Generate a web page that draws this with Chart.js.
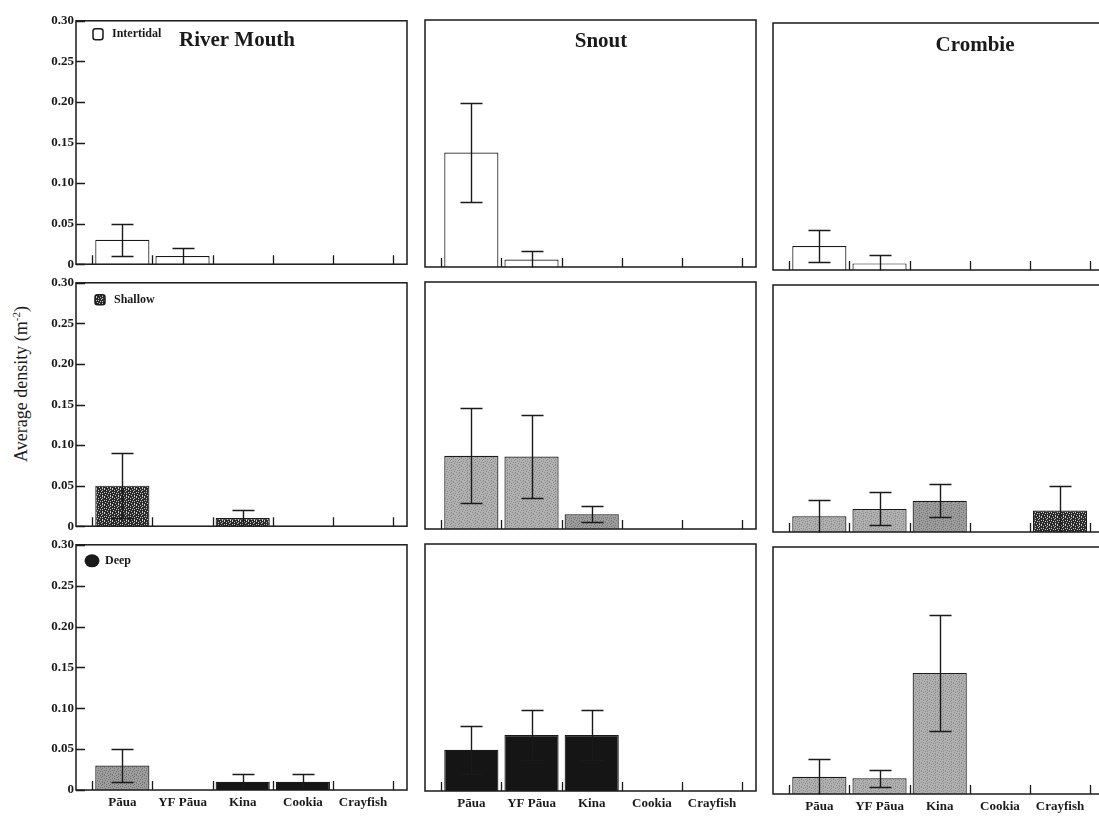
<!DOCTYPE html>
<html>
<head>
<meta charset="utf-8">
<script src="https://cdn.jsdelivr.net/npm/chart.js@4.4.1/dist/chart.umd.min.js"></script>
<style>
  body { margin: 0; background: #fff; width: 1099px; height: 816px; overflow: hidden; position: relative;
         font-family: 'Liberation Serif', 'Times New Roman', serif; }
  canvas { position: absolute; }
  #ylabel { position: absolute; left: 21px; top: 384px; transform: translate(-50%, -50%) rotate(-90deg);
            white-space: nowrap; font-size: 18px; color: #1a1a1a; }
  #ylabel sup { font-size: 11px; }
</style>
</head>
<body>
<div id="ylabel">Average density (m<sup>-2</sup>)</div>
<script>
/* ---------- data ---------- */
const CATEGORIES = ['Pāua', 'YF Pāua', 'Kina', 'Cookia', 'Crayfish'];
const SITES      = ['River Mouth', 'Snout', 'Crombie'];
const ZONES      = ['Intertidal', 'Shallow', 'Deep'];
const Y_TICKS    = [0, 0.05, 0.10, 0.15, 0.20, 0.25, 0.30];

// mean density (m-2) and error (±), per zone / site, in CATEGORIES order
const intertidalRiverMouth    = [0.030, 0.010, 0, 0, 0];
const intertidalRiverMouthErr = [0.020, 0.010, 0, 0, 0];
const intertidalSnout         = [0.139, 0.009, 0, 0, 0];
const intertidalSnoutErr      = [0.060, 0.010, 0, 0, 0];
const intertidalCrombie       = [0.029, 0.008, 0, 0, 0];
const intertidalCrombieErr    = [0.019, 0.010, 0, 0, 0];

const shallowRiverMouth       = [0.050, 0, 0.010, 0, 0];
const shallowRiverMouthErr    = [0.040, 0, 0.010, 0, 0];
const shallowSnout            = [0.089, 0.088, 0.018, 0, 0];
const shallowSnoutErr         = [0.058, 0.050, 0.010, 0, 0];
const shallowCrombie          = [0.019, 0.028, 0.038, 0, 0.026];
const shallowCrombieErr       = [0.020, 0.020, 0.020, 0, 0.030];

const deepRiverMouth          = [0.030, 0, 0.010, 0.010, 0];
const deepRiverMouthErr       = [0.020, 0, 0.009, 0.009, 0];
const deepSnout               = [0.050, 0.068, 0.068, 0, 0];
const deepSnoutErr            = [0.029, 0.030, 0.030, 0, 0];
const deepCrombie             = [0.021, 0.019, 0.147, 0, 0];
const deepCrombieErr          = [0.021, 0.010, 0.070, 0, 0];

const MEANS = [
  [intertidalRiverMouth, intertidalSnout, intertidalCrombie],
  [shallowRiverMouth, shallowSnout, shallowCrombie],
  [deepRiverMouth, deepSnout, deepCrombie],
];
const ERRORS = [
  [intertidalRiverMouthErr, intertidalSnoutErr, intertidalCrombieErr],
  [shallowRiverMouthErr, shallowSnoutErr, shallowCrombieErr],
  [deepRiverMouthErr, deepSnoutErr, deepCrombieErr],
];

/* ---------- layout ---------- */
const ROW_TOP  = [19, 281, 543];
const ROW_H    = 247;
const COL_LEFT = [76, 425, 773];
const COL_DY   = [0, 1, 4];          // scanned page is slightly skewed
const COL_W    = 331;
const Y_AXIS_W = 40;
const X_AXIS_H = 26;
const TITLE_POS = [[161, 20], [176, 22], [202, 23]];   // centre of site title, relative to plot area

/* ---------- fills (scanned stipple look) ---------- */
const SPECKLE_TILE = [
  'x...x...',
  '..x...x.',
  '.....x..',
  'x.x.....',
  '....x.x.',
  '.x......',
  '...x..x.',
  'x.....x.',
];
function speckle(base, dot) {
  const c = document.createElement('canvas');
  c.width = c.height = 8;
  const g = c.getContext('2d');
  g.fillStyle = base; g.fillRect(0, 0, 8, 8);
  g.fillStyle = dot;
  SPECKLE_TILE.forEach((row, j) => [...row].forEach((ch, i) => { if (ch === 'x') g.fillRect(i, j, 1, 1); }));
  return g.createPattern(c, 'repeat');
}
const WHITE = '#ffffff';
const BLACK = '#151515';
const DARK  = speckle('#2a2a2a', '#c8c8c8');
const GREY  = speckle('#b0b0b0', '#8c8c8c');
const GREY2 = speckle('#9c9c9c', '#767676');

const FILLS = [
  [[WHITE, WHITE, WHITE, WHITE, WHITE], [WHITE, WHITE, WHITE, WHITE, WHITE], [WHITE, WHITE, WHITE, WHITE, WHITE]],
  [[DARK, DARK, DARK, DARK, DARK], [GREY, GREY, GREY2, GREY, GREY], [GREY, GREY, GREY2, GREY, DARK]],
  [[GREY2, BLACK, BLACK, BLACK, BLACK], [BLACK, BLACK, BLACK, BLACK, BLACK], [GREY, GREY, GREY, GREY, GREY]],
];

/* ---------- panel decorations: box, inner ticks, error bars, titles ---------- */
const panelDecor = {
  id: 'panelDecor',
  afterDatasetsDraw(chart, args, opts) {
    const { ctx, chartArea: a, scales: { x, y } } = chart;
    const vals = chart.data.datasets[0].data;
    ctx.save();
    ctx.strokeStyle = '#1a1a1a';
    ctx.fillStyle = '#1a1a1a';

    // error bars
    ctx.lineWidth = 1.4;
    chart.getDatasetMeta(0).data.forEach((bar, i) => {
      const e = opts.errors[i];
      if (!e) return;
      const v = vals[i].y;
      const top = Math.round(y.getPixelForValue(v + e)) + 0.5;
      const bot = Math.round(y.getPixelForValue(Math.max(v - e, 0))) + 0.5;
      const bx = Math.round(bar.x) + 0.5;
      ctx.beginPath();
      ctx.moveTo(bx, top); ctx.lineTo(bx, bot);
      ctx.moveTo(bx - 11, top); ctx.lineTo(bx + 11, top);
      if (v - e > 0.002) { ctx.moveTo(bx - 11, bot); ctx.lineTo(bx + 11, bot); }
      ctx.stroke();
    });

    // box
    ctx.lineWidth = 1.5;
    ctx.strokeRect(a.left, a.top, a.width, a.height);

    // inner tick marks at category boundaries
    ctx.lineWidth = 1.3;
    ctx.beginPath();
    for (let k = 0; k <= CATEGORIES.length; k++) {
      const px = Math.round(x.getPixelForValue(k)) + 0.5;
      ctx.moveTo(px, a.bottom); ctx.lineTo(px, a.bottom - 9);
    }
    if (opts.yTicks) {
      Y_TICKS.forEach(v => {
        const py = Math.round(y.getPixelForValue(v)) + 0.5;
        ctx.moveTo(a.left, py); ctx.lineTo(a.left + 9, py);
      });
    }
    ctx.stroke();

    // site title
    if (opts.title) {
      ctx.font = 'bold 21px "Liberation Serif", serif';
      ctx.textAlign = 'center';
      ctx.textBaseline = 'middle';
      ctx.fillText(opts.title, a.left + opts.titlePos[0], a.top + opts.titlePos[1]);
    }

    // zone key
    if (opts.zone) {
      ctx.font = 'bold 12px "Liberation Serif", serif';
      ctx.textAlign = 'left';
      ctx.textBaseline = 'middle';
      ctx.lineWidth = 1.5;
      if (opts.zone === 'Intertidal') {
        roundRect(ctx, a.left + 17, a.top + 8, 10, 11, 2.5); ctx.stroke();
        ctx.fillText(opts.zone, a.left + 36, a.top + 13);
      } else if (opts.zone === 'Shallow') {
        ctx.fillStyle = DARK;
        roundRect(ctx, a.left + 19, a.top + 12, 10, 10, 2.5); ctx.fill(); ctx.stroke();
        ctx.fillStyle = '#1a1a1a';
        ctx.fillText(opts.zone, a.left + 38, a.top + 17);
      } else {
        ctx.beginPath(); ctx.ellipse(a.left + 16, a.top + 16, 7.5, 6.5, 0, 0, Math.PI * 2); ctx.fill();
        ctx.fillText(opts.zone, a.left + 29, a.top + 16);
      }
    }
    ctx.restore();
  }
};

function roundRect(ctx, x, y, w, h, r) {
  ctx.beginPath();
  ctx.moveTo(x + r, y);
  ctx.arcTo(x + w, y, x + w, y + h, r);
  ctx.arcTo(x + w, y + h, x, y + h, r);
  ctx.arcTo(x, y + h, x, y, r);
  ctx.arcTo(x, y, x + w, y, r);
  ctx.closePath();
}

/* ---------- build 3 x 3 panels ---------- */
ZONES.forEach((zone, r) => {
  SITES.forEach((site, c) => {
    const yw = c === 0 ? Y_AXIS_W : 0;
    const xh = r === 2 ? X_AXIS_H : 0;
    const pad = { top: 8, left: 4, right: 4, bottom: r === 2 ? 2 : 8 };

    const canvas = document.createElement('canvas');
    canvas.width  = pad.left + yw + COL_W + pad.right;
    canvas.height = pad.top + ROW_H + xh + pad.bottom;
    canvas.style.left = (COL_LEFT[c] - pad.left - yw) + 'px';
    canvas.style.top  = (ROW_TOP[r] + COL_DY[c] - pad.top) + 'px';
    document.body.appendChild(canvas);

    new Chart(canvas, {
      type: 'bar',
      data: {
        datasets: [{
          data: MEANS[r][c].map((v, i) => ({ x: i + 0.5, y: v })),
          backgroundColor: FILLS[r][c],
          borderColor: '#1a1a1a',
          borderWidth: 1.2,
          categoryPercentage: 1,
          barPercentage: 0.9,
        }]
      },
      options: {
        responsive: false,
        animation: false,
        layout: { padding: pad },
        plugins: {
          legend: { display: false },
          tooltip: { enabled: false },
          panelDecor: {
            errors: ERRORS[r][c],
            yTicks: c === 0,
            title: r === 0 ? site : null,
            titlePos: TITLE_POS[c],
            zone: c === 0 ? zone : null,
          }
        },
        scales: {
          x: {
            type: 'linear',
            display: r === 2,
            min: -0.27, max: 5.23,
            offset: false,
            grid: { display: false, drawTicks: false },
            border: { display: false },
            afterBuildTicks: s => { s.ticks = CATEGORIES.map((_, i) => ({ value: i + 0.5 })); },
            afterFit: s => { s.height = xh; },
            ticks: {
              autoSkip: false, maxRotation: 0, padding: 5, color: '#1a1a1a',
              font: { family: '"Liberation Serif", serif', size: 13, weight: 'bold' },
              callback: (v, i) => CATEGORIES[i],
            }
          },
          y: {
            display: c === 0,
            min: 0, max: 0.30,
            grid: { display: false, drawTicks: false },
            border: { display: false },
            afterBuildTicks: s => { s.ticks = Y_TICKS.map(v => ({ value: v })); },
            afterFit: s => { s.width = yw; },
            ticks: {
              padding: 2, color: '#1a1a1a',
              font: { family: '"Liberation Serif", serif', size: 13, weight: 'bold' },
              callback: v => v === 0 ? '0' : v.toFixed(2),
            }
          }
        }
      },
      plugins: [panelDecor]
    });
  });
});
</script>
</body>
</html>
